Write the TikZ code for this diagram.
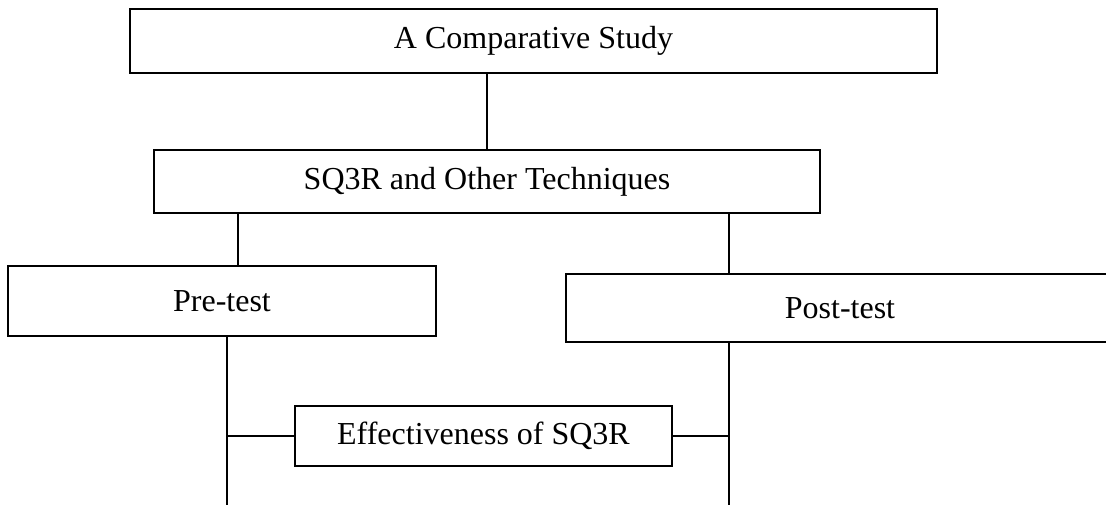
\documentclass[tikz,border=0pt]{standalone}
\usepackage{fontspec}
\setmainfont{Liberation Serif}
\usetikzlibrary{positioning, calc}
\tikzset{
  tbox/.style={rectangle, draw=black, line width=1pt, fill=white,
    text centered, inner sep=0pt, font=\fontsize{16}{19}\selectfont},
  ln/.style={draw=black, line width=1pt},
}

\begin{document}
\begin{tikzpicture}[x=0.5pt, y=-0.5pt]
  \useasboundingbox (0,0) rectangle (1106,504);

  \node[tbox, minimum width=403.5pt, minimum height=32pt] (study)
       at (533.5,41) {A Comparative Study};

  \node[tbox, minimum width=333pt, minimum height=31.5pt] (tech)
       at (487,181.5) {SQ3R and Other Techniques};

  \node[tbox, minimum width=214pt, minimum height=35pt] (pre)
       at (222,301) {Pre-test};

  \node[tbox, minimum width=274pt, minimum height=34pt] (post)
       at (840,308) {Post-test};

  \node[tbox, minimum width=188.5pt, minimum height=30pt] (eff)
       at (483.5,436) {Effectiveness of SQ3R};

  % open ends at the bottom
  \coordinate (preEnd)  at (227,506);
  \coordinate (postEnd) at (729,506);

  \draw[ln] (tech.north) -- (tech.north |- study.south);
  \draw[ln] ([xshift=8pt]pre.north) -- ([xshift=8pt]pre.north |- tech.south);
  \draw[ln] (post.north -| postEnd) -- (tech.south -| postEnd);
  \draw[ln] (pre.south -| preEnd) -- (preEnd);
  \draw[ln] (post.south -| postEnd) -- (postEnd);
  \draw[ln] (eff.west) -- (eff.west -| preEnd);
  \draw[ln] (eff.east) -- (eff.east -| postEnd);
\end{tikzpicture}
\end{document}
